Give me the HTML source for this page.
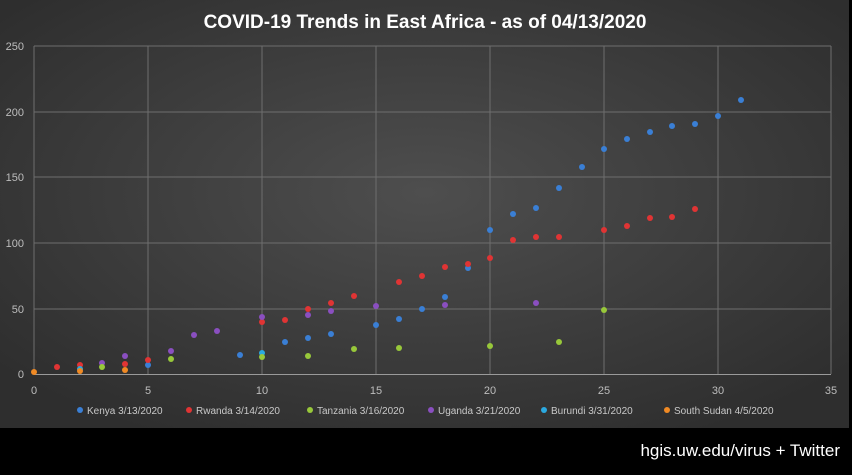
<!DOCTYPE html>
<html><head><style>
body{margin:0;width:852px;height:470px;overflow:hidden;background:#000;font-family:"Liberation Sans",sans-serif}
</style></head><body>
<svg width="852" height="470" xmlns="http://www.w3.org/2000/svg">
<defs>
<radialGradient id="bg" cx="50%" cy="45%" r="65%">
<stop offset="0" stop-color="#4e4e4e"/><stop offset="1" stop-color="#2e2e2e"/>
</radialGradient>
<radialGradient id="sh" cx="35%" cy="30%" r="70%"><stop offset="0" stop-color="#fff" stop-opacity=".6"/><stop offset=".5" stop-color="#fff" stop-opacity="0"/></radialGradient>
</defs>
<rect x="0" y="0" width="849" height="428" fill="url(#bg)"/>
<text x="425" y="28" fill="#fff" font-size="19" font-weight="bold" text-anchor="middle">COVID-19 Trends in East Africa - as of 04/13/2020</text>
<g stroke="#6e6e6e" stroke-width="1">
<line x1="34" y1="46" x2="831" y2="46"/><line x1="34" y1="112" x2="831" y2="112"/><line x1="34" y1="177" x2="831" y2="177"/><line x1="34" y1="243" x2="831" y2="243"/><line x1="34" y1="309" x2="831" y2="309"/>
<line x1="34" y1="46" x2="34" y2="374"/><line x1="148" y1="46" x2="148" y2="374"/><line x1="262" y1="46" x2="262" y2="374"/><line x1="376" y1="46" x2="376" y2="374"/><line x1="490" y1="46" x2="490" y2="374"/><line x1="604" y1="46" x2="604" y2="374"/><line x1="718" y1="46" x2="718" y2="374"/><line x1="831" y1="46" x2="831" y2="374"/>
</g>
<line x1="34" y1="374.5" x2="831" y2="374.5" stroke="#9a9a9a"/>
<g fill="#bdbdbd" font-size="11" text-anchor="end">
<text x="24" y="50">250</text><text x="24" y="116">200</text><text x="24" y="181">150</text><text x="24" y="247">100</text><text x="24" y="313">50</text><text x="24" y="378">0</text>
</g>
<g fill="#bdbdbd" font-size="11" text-anchor="middle">
<text x="34" y="394">0</text><text x="148" y="394">5</text><text x="262" y="394">10</text><text x="376" y="394">15</text><text x="490" y="394">20</text><text x="604" y="394">25</text><text x="718" y="394">30</text><text x="831" y="394">35</text>
</g>
<g r="3">
<g fill="#3a7fd5">
<circle cx="148" cy="365" r="3"/><circle cx="240" cy="355" r="3"/><circle cx="285" cy="342" r="3"/><circle cx="308" cy="338" r="3"/><circle cx="331" cy="334" r="3"/><circle cx="376" cy="325" r="3"/><circle cx="399" cy="319" r="3"/><circle cx="422" cy="309" r="3"/><circle cx="445" cy="297" r="3"/><circle cx="468" cy="268" r="3"/><circle cx="490" cy="230" r="3"/><circle cx="513" cy="214" r="3"/><circle cx="536" cy="208" r="3"/><circle cx="559" cy="188" r="3"/><circle cx="582" cy="167" r="3"/><circle cx="604" cy="149" r="3"/><circle cx="627" cy="139" r="3"/><circle cx="650" cy="132" r="3"/><circle cx="672" cy="126" r="3"/><circle cx="695" cy="124" r="3"/><circle cx="718" cy="116" r="3"/><circle cx="741" cy="100" r="3"/>
</g>
<g fill="#e03434">
<circle cx="57" cy="367" r="3"/><circle cx="80" cy="365" r="3"/><circle cx="125" cy="364" r="3"/><circle cx="148" cy="360" r="3"/><circle cx="262" cy="322" r="3"/><circle cx="285" cy="320" r="3"/><circle cx="308" cy="309" r="3"/><circle cx="331" cy="303" r="3"/><circle cx="354" cy="296" r="3"/><circle cx="399" cy="282" r="3"/><circle cx="422" cy="276" r="3"/><circle cx="445" cy="267" r="3"/><circle cx="468" cy="264" r="3"/><circle cx="490" cy="258" r="3"/><circle cx="513" cy="240" r="3"/><circle cx="536" cy="237" r="3"/><circle cx="559" cy="237" r="3"/><circle cx="604" cy="230" r="3"/><circle cx="627" cy="226" r="3"/><circle cx="650" cy="218" r="3"/><circle cx="672" cy="217" r="3"/><circle cx="695" cy="209" r="3"/>
</g>
<g fill="#8a4fc0">
<circle cx="102" cy="363" r="3"/><circle cx="125" cy="356" r="3"/><circle cx="171" cy="351" r="3"/><circle cx="194" cy="335" r="3"/><circle cx="217" cy="331" r="3"/><circle cx="262" cy="317" r="3"/><circle cx="308" cy="315" r="3"/><circle cx="331" cy="311" r="3"/><circle cx="376" cy="306" r="3"/><circle cx="445" cy="305" r="3"/><circle cx="536" cy="303" r="3"/>
</g>
<g fill="#2ba9e0">
<circle cx="80" cy="369" r="3"/><circle cx="262" cy="353" r="3"/>
</g>
<g fill="#98c83a">
<circle cx="102" cy="367" r="3"/><circle cx="171" cy="359" r="3"/><circle cx="262" cy="357" r="3"/><circle cx="308" cy="356" r="3"/><circle cx="354" cy="349" r="3"/><circle cx="399" cy="348" r="3"/><circle cx="490" cy="346" r="3"/><circle cx="559" cy="342" r="3"/><circle cx="604" cy="310" r="3"/>
</g>
<g fill="#f08a24">
<circle cx="34" cy="372" r="3"/><circle cx="80" cy="371" r="3"/><circle cx="125" cy="370" r="3"/>
</g>
</g>
<g font-size="10" fill="#c8c8c8">
<circle cx="80" cy="410" r="3" fill="#3a7fd5"/><text x="87" y="414">Kenya 3/13/2020</text>
<circle cx="189" cy="410" r="3" fill="#e03434"/><text x="196" y="414">Rwanda 3/14/2020</text>
<circle cx="310" cy="410" r="3" fill="#98c83a"/><text x="317" y="414">Tanzania 3/16/2020</text>
<circle cx="431" cy="410" r="3" fill="#8a4fc0"/><text x="438" y="414">Uganda 3/21/2020</text>
<circle cx="544" cy="410" r="3" fill="#2ba9e0"/><text x="551" y="414">Burundi  3/31/2020</text>
<circle cx="667" cy="410" r="3" fill="#f08a24"/><text x="674" y="414">South Sudan 4/5/2020</text>
</g>
<text x="840" y="456" fill="#fff" font-size="17" text-anchor="end">hgis.uw.edu/virus + Twitter</text>
</svg>
</body></html>
